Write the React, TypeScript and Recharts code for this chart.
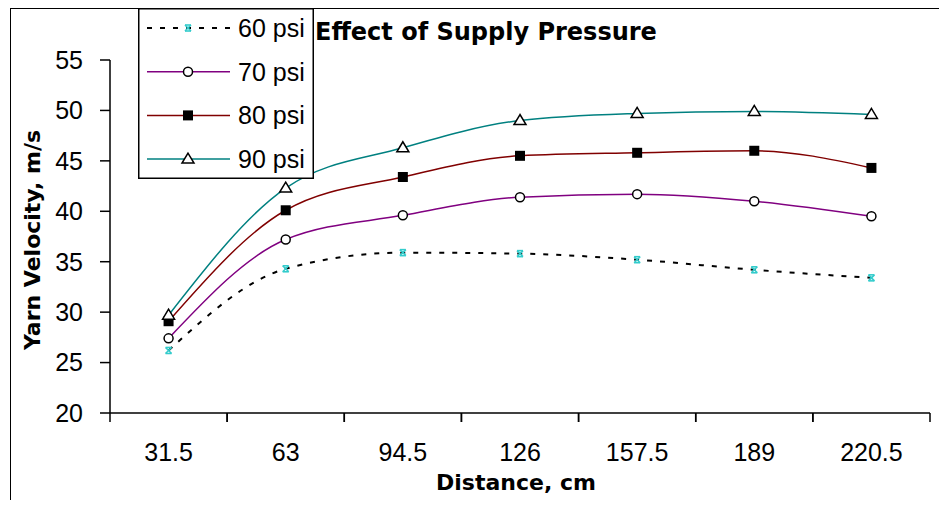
import React from "react";
import { LineChart, Line, XAxis, YAxis, Legend } from "recharts";

// distance categories (cm)
const categories = ["31.5", "63", "94.5", "126", "157.5", "189", "220.5"];

// yarn velocity, m/s
const psi60 = [26.2, 34.3, 35.9, 35.8, 35.2, 34.2, 33.4];
const psi70 = [27.4, 37.2, 39.6, 41.4, 41.7, 41.0, 39.5];
const psi80 = [29.1, 40.1, 43.4, 45.5, 45.8, 46.0, 44.3];
const psi90 = [29.7, 42.3, 46.3, 49.0, 49.7, 49.9, 49.6];

const yTicks = [20, 25, 30, 35, 40, 45, 50, 55];

const data = categories.map((name, i) => ({
  name,
  p60: psi60[i],
  p70: psi70[i],
  p80: psi80[i],
  p90: psi90[i],
}));

const W = 928;
const H = 491;
const margin = { top: 51, right: 9, bottom: 27, left: 39 };
const Y_W = 60;
const HALF = (W - margin.left - margin.right - Y_W) / categories.length / 2;

const TICK_FONT = "'Liberation Sans', Arial, sans-serif";
const BOLD_FONT = "'DejaVu Sans', sans-serif";

type Kind = "x" | "circle" | "square" | "triangle";

const Marker = ({ kind, cx, cy }: { kind: Kind; cx: number; cy: number }) => {
  if (cx == null || cy == null) return null;
  if (kind === "x") {
    return (
      <g stroke="#33CCCC" strokeWidth={1.6} fill="none">
        <line x1={cx - 3} y1={cy - 3} x2={cx + 3} y2={cy + 3} />
        <line x1={cx + 3} y1={cy - 3} x2={cx - 3} y2={cy + 3} />
        <line x1={cx - 3} y1={cy - 3} x2={cx + 3} y2={cy - 3} />
        <line x1={cx - 3} y1={cy + 3} x2={cx + 3} y2={cy + 3} />
      </g>
    );
  }
  if (kind === "circle") {
    return <circle cx={cx} cy={cy} r={4.5} fill="#fff" stroke="#000" strokeWidth={1.5} />;
  }
  if (kind === "square") {
    return <rect x={cx - 5} y={cy - 5} width={10} height={10} fill="#000" />;
  }
  return (
    <polygon
      points={`${cx},${cy - 6} ${cx - 6},${cy + 4} ${cx + 6},${cy + 4}`}
      fill="#fff"
      stroke="#000"
      strokeWidth={1.5}
    />
  );
};

const dotFor = (kind: Kind) => (props: any) =>
  <Marker key={`${kind}-${props.index}`} kind={kind} cx={props.cx} cy={props.cy} />;

const legendRows: { name: string; color: string; dash?: string; kind: Kind }[] = [
  { name: "60 psi", color: "#000", dash: "5 8", kind: "x" },
  { name: "70 psi", color: "#800080", kind: "circle" },
  { name: "80 psi", color: "#800000", kind: "square" },
  { name: "90 psi", color: "#008080", kind: "triangle" },
];

const LegendBox = () => (
  <svg width={176} height={171} style={{ display: "block" }}>
    <rect x={0.75} y={0.75} width={174.5} height={169.5} fill="#fff" stroke="#000" strokeWidth={1.5} />
    {legendRows.map((r, i) => {
      const y = 20 + i * 43.7;
      return (
        <g key={r.name}>
          <line
            x1={9}
            x2={92}
            y1={y}
            y2={y}
            stroke={r.color}
            strokeWidth={r.dash ? 2 : 1.5}
            strokeDasharray={r.dash}
          />
          <Marker kind={r.kind} cx={50} cy={y} />
          <text x={100} y={y} dominantBaseline="central" fontFamily={TICK_FONT} fontSize={25} fill="#000">
            {r.name}
          </text>
        </g>
      );
    })}
  </svg>
);

const XTick = (props: any) => {
  const { x, y, payload } = props;
  return (
    <g>
      <line x1={x - HALF} x2={x - HALF} y1={y} y2={y + 9} stroke="#000" strokeWidth={1.5} />
      <line x1={x + HALF} x2={x + HALF} y1={y} y2={y + 9} stroke="#000" strokeWidth={1.5} />
      <text x={x} y={y + 48} textAnchor="middle" fontFamily={TICK_FONT} fontSize={25} fill="#000">
        {payload.value}
      </text>
    </g>
  );
};

export default function App() {
  return (
    <div
      style={{
        position: "relative",
        width: W,
        height: H,
        marginLeft: 2,
        borderTop: "1px solid #000",
        borderLeft: "1px solid #000",
        background: "#fff",
      }}
    >
      <div
        style={{
          position: "absolute",
          left: 304,
          top: 11,
          fontFamily: BOLD_FONT,
          fontWeight: "bold",
          fontSize: 24,
          lineHeight: "24px",
          whiteSpace: "nowrap",
          zIndex: 2,
        }}
      >
        Effect of Supply Pressure
      </div>
      <LineChart width={W} height={H} data={data} margin={margin}>
        <XAxis
          dataKey="name"
          height={60}
          interval={0}
          tickLine={false}
          tickSize={0}
          tickMargin={0}
          padding={{ left: HALF, right: HALF }}
          axisLine={{ stroke: "#000", strokeWidth: 1.5 }}
          tick={<XTick />}
          label={{
            content: () => (
              <text x={505} y={481} textAnchor="middle" fontFamily={BOLD_FONT} fontWeight="bold" fontSize={22} fill="#000">
                Distance, cm
              </text>
            ),
          }}
        />
        <YAxis
          width={Y_W}
          domain={[20, 55]}
          ticks={yTicks}
          interval={0}
          tickSize={10}
          tickMargin={17}
          axisLine={{ stroke: "#000", strokeWidth: 1.5 }}
          tickLine={{ stroke: "#000", strokeWidth: 1.5 }}
          tick={{ fill: "#000", fontFamily: TICK_FONT, fontSize: 25 }}
          label={{
            content: () => (
              <text
                x={21}
                y={231}
                transform="rotate(-90 21 231)"
                textAnchor="middle"
                dominantBaseline="central"
                fontFamily={BOLD_FONT}
                fontWeight="bold"
                fontSize={22}
                fill="#000"
              >
                Yarn Velocity, m/s
              </text>
            ),
          }}
        />
        <Legend
          content={() => <LegendBox />}
          layout="horizontal"
          verticalAlign="middle"
          align="center"
          wrapperStyle={{ position: "absolute", left: 127, top: -1, width: 176, height: 171 }}
        />
        <Line
          type="monotone"
          dataKey="p60"
          name="60 psi"
          stroke="#000"
          strokeWidth={2}
          strokeDasharray="5 8"
          dot={dotFor("x")}
          isAnimationActive={false}
        />
        <Line
          type="monotone"
          dataKey="p70"
          name="70 psi"
          stroke="#800080"
          strokeWidth={1.5}
          dot={dotFor("circle")}
          isAnimationActive={false}
        />
        <Line
          type="monotone"
          dataKey="p80"
          name="80 psi"
          stroke="#800000"
          strokeWidth={1.5}
          dot={dotFor("square")}
          isAnimationActive={false}
        />
        <Line
          type="monotone"
          dataKey="p90"
          name="90 psi"
          stroke="#008080"
          strokeWidth={1.5}
          dot={dotFor("triangle")}
          isAnimationActive={false}
        />
      </LineChart>
    </div>
  );
}
